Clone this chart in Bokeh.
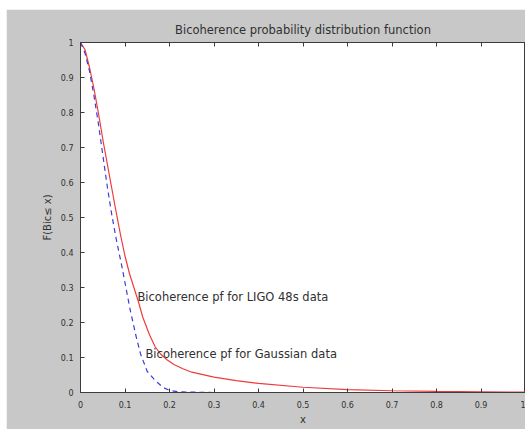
from bokeh.plotting import figure
from bokeh.models import LinearAxis, Label, Range1d, FixedTicker, Spacer
from bokeh.layouts import row, column
from bokeh.embed import file_html
from bokeh.resources import INLINE

# Data
ligo_x = [0, 0.01, 0.02, 0.03, 0.04, 0.052, 0.065, 0.078, 0.09, 0.1, 0.11, 0.12, 0.13, 0.14,
          0.155, 0.168, 0.18, 0.195, 0.21, 0.23, 0.25, 0.3, 0.35, 0.4, 0.5, 0.6, 0.7, 0.8, 0.9, 1.0]
ligo_y = [1, 0.98, 0.93, 0.87, 0.8, 0.71, 0.62, 0.53, 0.45, 0.39, 0.34, 0.3, 0.26, 0.215,
          0.165, 0.13, 0.11, 0.093, 0.08, 0.068, 0.058, 0.044, 0.034, 0.026, 0.015, 0.008, 0.005,
          0.003, 0.002, 0.001]
gauss_x = [0, 0.01, 0.02, 0.03, 0.04, 0.05, 0.06, 0.07, 0.08, 0.093, 0.105, 0.112, 0.125, 0.135,
           0.15, 0.168, 0.185, 0.2, 0.22, 0.25, 0.3, 0.5, 0.7, 0.9, 1.0]
gauss_y = [1, 0.97, 0.92, 0.85, 0.77, 0.68, 0.59, 0.51, 0.44, 0.36, 0.28, 0.234, 0.16, 0.11,
           0.06, 0.034, 0.015, 0.006, 0.002, 0.001, 0, 0, 0, 0, 0]
tick_vals = [0, 0.1, 0.2, 0.3, 0.4, 0.5, 0.6, 0.7, 0.8, 0.9, 1.0]
tick_labels = ["0", "0.1", "0.2", "0.3", "0.4", "0.5", "0.6", "0.7", "0.8", "0.9", "1"]

FONT = "DejaVu Sans"
GREY = "#c8c8c8"
AX = "#3c3c3c"
TXT = "#303030"

p = figure(width=519, height=420, output_backend="svg", toolbar_location=None,
           x_range=Range1d(0, 1), y_range=Range1d(0, 1),
           min_border_left=74, min_border_right=0, min_border_top=33, min_border_bottom=37,
           background_fill_color="white", border_fill_color=GREY,
           outline_line_color=AX, outline_line_width=1)
p.grid.visible = False

p.line(ligo_x, ligo_y, line_color="#f03a3a", line_width=1.2)
p.line(gauss_x, gauss_y, line_color="#3c3cd8", line_width=1.2, line_dash="5 4")

overrides = {v: s for v, s in zip(tick_vals, tick_labels)}
for ax in (p.xaxis[0], p.yaxis[0]):
    ax.ticker = FixedTicker(ticks=tick_vals)
    ax.major_label_overrides = overrides
    ax.major_tick_in = 4
    ax.major_tick_out = 0
    ax.minor_tick_line_color = None
    ax.axis_line_color = AX
    ax.major_tick_line_color = AX
    ax.major_label_text_font = FONT
    ax.major_label_text_font_size = "8px"
    ax.major_label_text_color = TXT
    ax.axis_label_text_font = FONT
    ax.axis_label_text_font_size = "10px"
    ax.axis_label_text_font_style = "normal"
    ax.axis_label_text_color = TXT
p.xaxis[0].axis_label = "x"
p.xaxis[0].major_label_standoff = 8
p.xaxis[0].axis_label_standoff = 3
p.yaxis[0].axis_label = "F(Bic≤ x)"
p.yaxis[0].major_label_standoff = 7
p.yaxis[0].axis_label_standoff = 5

top = LinearAxis(ticker=FixedTicker(ticks=tick_vals), major_tick_in=4, major_tick_out=0,
                 minor_tick_line_color=None, axis_line_color=AX, major_tick_line_color=AX,
                 major_label_text_color=None, major_label_text_font_size="6px",
                 major_label_standoff=0)
p.add_layout(top, "above")

p.title.text = "Bicoherence probability distribution function"
p.title.align = "center"
p.title.text_font = FONT
p.title.text_font_size = "11.5px"
p.title.text_font_style = "normal"
p.title.text_color = TXT
p.title.standoff = 11

p.add_layout(Label(x=0.128, y=0.272, text="Bicoherence pf for LIGO 48s data",
                   text_font=FONT, text_font_size="11.5px", text_color=TXT,
                   text_baseline="middle"))
p.add_layout(Label(x=0.146, y=0.111, text="Bicoherence pf for Gaussian data",
                   text_font=FONT, text_font_size="11.5px", text_color=TXT,
                   text_baseline="middle"))

layout = column(Spacer(height=9), row(Spacer(width=6), p))
open("out.html", "w").write(file_html(layout, INLINE))
